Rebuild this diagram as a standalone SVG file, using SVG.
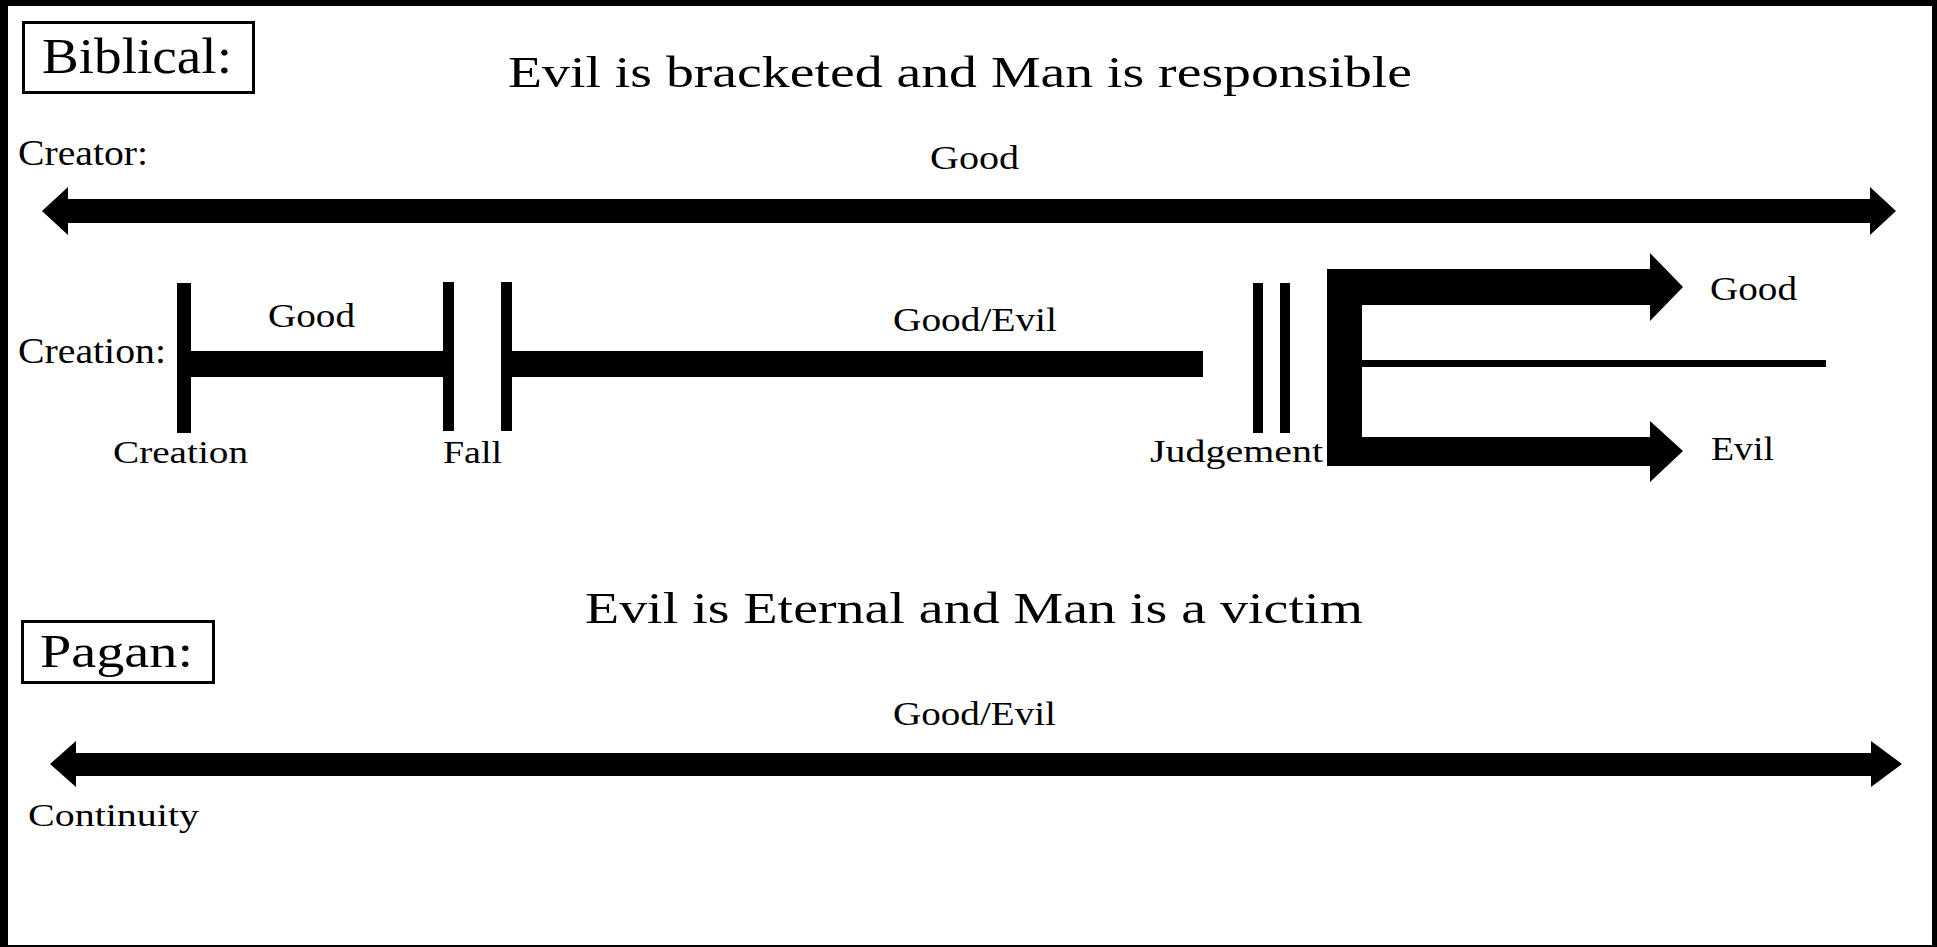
<svg xmlns="http://www.w3.org/2000/svg" width="1937" height="947" viewBox="0 0 1937 947">
<style>
text{font-family:"Liberation Serif","Times New Roman",serif;fill:#000}
.bar{fill:#000}
.box{fill:#fff;stroke:#000;stroke-width:3}
</style>
<rect x="0" y="0" width="1937" height="947" fill="#000"/>
<rect x="8" y="6" width="1924" height="939" fill="#fff"/>
<g id="biblical-label">
<rect class="box" x="23.5" y="22.5" width="230" height="70"/>
<text x="42" y="73" font-size="50" textLength="190" lengthAdjust="spacingAndGlyphs">Biblical:</text>
</g>
<g id="biblical-title">
<text x="508" y="87" font-size="45" textLength="904" lengthAdjust="spacingAndGlyphs">Evil is bracketed and Man is responsible</text>
</g>
<g id="creator-row">
<text x="18" y="165" font-size="35" textLength="130" lengthAdjust="spacingAndGlyphs">Creator:</text>
<text x="930" y="169" font-size="34" textLength="89" lengthAdjust="spacingAndGlyphs">Good</text>
</g>
<g id="creation-row">
<text x="18" y="363" font-size="36" textLength="148" lengthAdjust="spacingAndGlyphs">Creation:</text>
<text x="268" y="327" font-size="33" textLength="87" lengthAdjust="spacingAndGlyphs">Good</text>
<text x="893" y="331" font-size="34" textLength="164" lengthAdjust="spacingAndGlyphs">Good/Evil</text>
</g>
<g id="creation-event">
<rect class="bar" x="177" y="283" width="14" height="150"/>
<text x="113" y="463" font-size="32" textLength="135" lengthAdjust="spacingAndGlyphs">Creation</text>
</g>
<g id="fall-event">
<rect class="bar" x="443" y="282" width="11" height="149"/>
<rect class="bar" x="501" y="282" width="11" height="149"/>
<text x="443" y="463" font-size="32" textLength="59" lengthAdjust="spacingAndGlyphs">Fall</text>
</g>
<g id="judgement-event">
<rect class="bar" x="1253" y="283" width="10" height="150"/>
<rect class="bar" x="1280" y="283" width="10" height="150"/>
<text x="1150" y="462" font-size="32" textLength="173" lengthAdjust="spacingAndGlyphs">Judgement</text>
</g>
<g id="outcome-good">
<text x="1710" y="300" font-size="33" textLength="87" lengthAdjust="spacingAndGlyphs">Good</text>
</g>
<g id="outcome-evil">
<text x="1711" y="460" font-size="33" textLength="63" lengthAdjust="spacingAndGlyphs">Evil</text>
</g>
<g id="pagan-label">
<rect class="box" x="22.5" y="621.5" width="191" height="61"/>
<text x="40" y="667" font-size="47" textLength="153" lengthAdjust="spacingAndGlyphs">Pagan:</text>
</g>
<g id="pagan-title">
<text x="585" y="623" font-size="45" textLength="778" lengthAdjust="spacingAndGlyphs">Evil is Eternal and Man is a victim</text>
</g>
<g id="pagan-row">
<text x="893" y="725" font-size="34" textLength="163" lengthAdjust="spacingAndGlyphs">Good/Evil</text>
<text x="28" y="826" font-size="32" textLength="171" lengthAdjust="spacingAndGlyphs">Continuity</text>
</g>
<g id="connectors">
<polygon class="bar" points="42,211 68,187 68,199 1870,199 1870,187 1896,211 1870,235 1870,223 68,223 68,235"/>
<rect class="bar" x="191" y="351" width="252" height="26"/>
<rect class="bar" x="501" y="351" width="702" height="26"/>
<rect class="bar" x="1327" y="269" width="35" height="197"/>
<polygon class="bar" points="1327,269 1650,269 1650,253 1683,287 1650,321 1650,305 1327,305"/>
<polygon class="bar" points="1327,437 1650,437 1650,421 1683,451 1650,482 1650,466 1327,466"/>
<rect class="bar" x="1362" y="360" width="464" height="7"/>
<polygon class="bar" points="50,764 76,741 76,753 1871,753 1871,741 1902,764 1871,787 1871,776 76,776 76,787"/>
</g>
</svg>
